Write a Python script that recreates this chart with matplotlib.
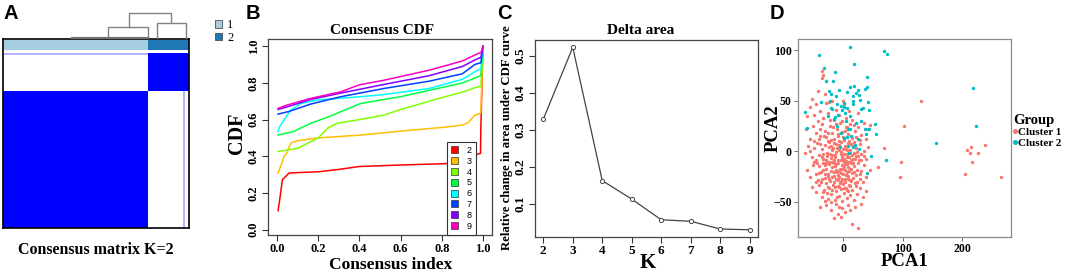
import numpy as np
import matplotlib
matplotlib.use('Agg')
import matplotlib.pyplot as plt
from matplotlib.colors import LinearSegmentedColormap, ListedColormap
from matplotlib.patches import Patch
from matplotlib.lines import Line2D

# ---------------- data ----------------
# Panel A: consensus matrix K=2
cluster_sizes = [78, 22]           # samples in cluster 1, cluster 2 (percent of samples)
annot_colors = ['#A6CEE3', '#1F78B4']
# dendrogram merges: (left_x, right_x, left_h, right_h, top_h)
dend_merges = [(56.5, 78.0, 3.0, 0.0, 12.0),
               (82.8, 98.4, 0.0, 0.0, 16.0),
               (67.7, 90.3, 12.0, 16.0, 26.0)]
dend_base = (37.0, 78.0, 1.2)

# Panel B: consensus CDF curves
cdf_k = ['2', '3', '4', '5', '6', '7', '8', '9']
cdf_colors = ['#FF0000', '#FFBF00', '#80FF00', '#00FF40', '#00FFFF', '#0040FF', '#8000FF', '#FF00BF']
cdf_x = {
    '2': [0.005, 0.015, 0.026, 0.058, 0.107, 0.2, 0.3, 0.4, 0.6, 0.8, 0.945, 0.96, 0.975, 0.988, 0.99, 1.0],
    '3': [0.005, 0.02, 0.034, 0.05, 0.06, 0.07, 0.1, 0.2, 0.4, 0.6, 0.8, 0.9, 0.93, 0.96, 0.985, 0.99, 1.0],
    '4': [0.005, 0.1, 0.164, 0.2, 0.245, 0.293, 0.4, 0.52, 0.6, 0.8, 0.9, 0.975, 0.99, 1.0],
    '5': [0.005, 0.08, 0.164, 0.25, 0.309, 0.406, 0.52, 0.6, 0.74, 0.9, 0.975, 0.99, 1.0],
    '6': [0.005, 0.012, 0.034, 0.066, 0.115, 0.196, 0.35, 0.5, 0.74, 0.9, 0.975, 0.99, 1.0],
    '7': [0.005, 0.06, 0.164, 0.31, 0.52, 0.74, 0.9, 0.96, 0.975, 0.99, 1.0],
    '8': [0.005, 0.05, 0.164, 0.31, 0.52, 0.74, 0.9, 0.96, 0.975, 0.99, 1.0],
    '9': [0.005, 0.05, 0.164, 0.31, 0.4, 0.52, 0.74, 0.9, 0.975, 0.99, 1.0],
}
cdf_y = {
    '2': [0.103, 0.18, 0.272, 0.308, 0.311, 0.315, 0.328, 0.344, 0.352, 0.359, 0.366, 0.40, 0.413, 0.415, 0.56, 1.0],
    '3': [0.308, 0.353, 0.40, 0.42, 0.456, 0.474, 0.485, 0.50, 0.515, 0.537, 0.557, 0.57, 0.585, 0.624, 0.632, 0.64, 1.0],
    '4': [0.426, 0.443, 0.48, 0.50, 0.553, 0.58, 0.60, 0.625, 0.655, 0.72, 0.75, 0.779, 0.78, 1.0],
    '5': [0.516, 0.535, 0.58, 0.615, 0.643, 0.688, 0.71, 0.725, 0.76, 0.80, 0.833, 0.84, 1.0],
    '6': [0.534, 0.56, 0.598, 0.652, 0.688, 0.707, 0.72, 0.734, 0.77, 0.82, 0.87, 0.875, 1.0],
    '7': [0.63, 0.645, 0.685, 0.725, 0.77, 0.81, 0.85, 0.90, 0.906, 0.91, 1.0],
    '8': [0.655, 0.67, 0.71, 0.745, 0.792, 0.84, 0.89, 0.925, 0.933, 0.94, 1.0],
    '9': [0.661, 0.68, 0.716, 0.752, 0.79, 0.815, 0.87, 0.92, 0.96, 0.965, 1.0],
}

# Panel C: delta area
delta_k = [2, 3, 4, 5, 6, 7, 8, 9]
delta_area = [0.329, 0.524, 0.163, 0.113, 0.057, 0.053, 0.032, 0.030]

# Panel D: PCA scatter
c1_x = [-36, -34, -36, -42, -30, -45, -28, -24, -18, 0, 2, -55, -48, -38, -33, -25, -12, -6, -15, 5,
        10, -60, -42, -22, -2, 15, 25, -52,
        -62, -50, -45, -40, -35, -30, -28, -22, -18, -15, -10, -8, -5, -2, 2, 5, 8, 12, 15, 20,
        25, 30, 35, 40, -55, -38, -25, -12, 0, 10, 18, 28, -32, -20, -7, 3, -48, 22, 38, 45,
        -64, -58, -52, -48, -44, -40, -36, -33, -30, -27, -24, -21, -18, -15, -13, -10, -8, -6, -4, -2,
        0, 2, 4, 6, 8, 10, 12, 14, 16, 18, 20, 22, 25, 28, 31, 35, 38, 42, -45, -38,
        -29, -23, -16, -11, -3, 1, 7, 13, 19, 24, -55, 30, -35, -19, 5,
        -60, -55, -50, -46, -42, -40, -37, -34, -31, -28, -26, -24, -22, -20, -18, -16, -14, -12, -10, -9,
        -7, -5, -4, -2, 0, 1, 3, 4, 6, 8, 9, 11, 13, 15, 17, 19, 22, 25, 28, 31,
        35, 39, -48, -36, -30, -19, -11, -3, 2, 7, 12, 18, 24, -25, -15, -8, 5, 14, -33, 45,
        -52, -45, -40, -36, -32, -29, -26, -23, -20, -17, -14, -12, -9, -7, -4, -2, 0, 2, 5, 7,
        10, 12, 15, 18, 21, 24, 28, 33, 38, -30, -18, -5, 8, -10, 20,
        -38, -28, -20, -12, -8, -4, -1, 3, 8, 12, 15, 25, -15, 20, 30,
        -27, -23, -19, -14, -11, -6, -3, 0, 3, 6, 9, 11, 14, 16, -25, -15, -6, 4, 12, -22,
        -17, -9, -1, 8, 15, -29, -13, -4, 1, 10, -20, -7, 5, 17, -24, -16, -2, 6, 21, -11,
        -31, -27, 23, 26, -37, 33, -41, -46, -34, -39, -26, -17, -9, 7, -43, 29, 36, -33, -21, -6,
        131, 103, 97, 96, 69, 58, 204, 208, 215, 213, 217, 226, 239, 266]
c1_y = [79, 75, 72, 60, 57, 47, 48, 49, 50, 50, 47, 44, 36, 40, 33, 38, 41, 36, 31, 33,
        40, 35, 30, 31, 30, 31, 38, 52,
        22, 25, 18, 12, 27, 20, 14, 25, 18, 12, 22, 15, 28, 19, 11, 24, 17, 27, 13, 20,
        24, 16, 28, 22, 12, 22, 10, 27, 14, 10, 26, 11, 15, 11, 10, 20, 10, 14, 12, 26,
        -2, 5, -6, 3, 8, -4, 2, -8, 6, -2, 4, -7, 1, 8, -4, 3, -9, 6, -1, -6,
        2, -8, 5, -3, 8, -6, 1, -9, 5, -2, -8, 3, -5, 7, -3, 0, -8, 4, -9, 7,
        -9, 9, -9, -1, 9, -3, 1, 7, 9, -1, 0, -9, -6, -4, -10,
        -18, -25, -14, -22, -28, -15, -20, -12, -26, -17, -22, -13, -29, -19, -11, -24, -15, -27, -20, -12,
        -25, -17, -29, -14, -22, -11, -27, -18, -13, -24, -16, -28, -12, -21, -26, -15, -23, -12, -27, -19,
        -14, -25, -11, -27, -14, -25, -18, -21, -16, -20, -17, -20, -18, -24, -20, -28, -23, -29, -18, -18,
        -35, -40, -33, -45, -38, -31, -47, -36, -42, -33, -48, -39, -34, -44, -37, -49, -32, -41, -36, -46,
        -33, -43, -38, -48, -34, -42, -36, -45, -39, -49, -38, -31, -39, -45, -31,
        -55, -53, -58, -52, -62, -65, -56, -60, -53, -58, -72, -76, -66, -55, -52,
        -5, -11, -16, -6, -13, -19, -3, -9, -13, -6, -11, -2, -17, -8, -35, -30, -35, -30, -34, -3,
        3, -23, -27, -27, -4, -12, -35, -9, -36, -19, 5, 1, 2, -12, -27, -12, -17, -38, -5, 7,
        -22, -41, -30, -9, -30, -30, -21, -30, -3, 15, 18, 24, 17, 24, -12, -22, -5, -40, -50, -55,
        50, 25, -11, -25, 3, -16, -22, 1, 4, -2, -11, -2, 6, -25]
c2_x = [11, -41, 18, 69, 74, -32, -14, -28, -17, 41, -6, 11, 18, 25, 37, 40, -24, -20, 7, 16,
        16, 28, 27, 22, 42, -37, -10, -4, 1, 6, 34, -20, 17,
        219, 223, 156, 72, 54, 55, 47, 40, -64, -60, 43, 37, 39, 31, 44, 12, 9, 1, -5, 6, -13,
        -16, -8, -2, 1, 20, 16, 27, -22, -19, 5, 12, -10, 22, 8, -3, 14, 30, -25, 10, 25, 3, -12]
c2_y = [103, 95, 86, 99, 96, 82, 78, 69, 69, 73, 61, 64, 65, 61, 62, 64, 60, 57, 59, 55,
        50, 51, 56, 58, 49, 49, 47, 45, 48, 43, 43, 43, 47,
        63, 25, 8, -9, 27, 17, -5, -21, 39, 23, 22, 22, 17, 42, 41, 22, 22, 13, 4, 14, 34,
        32, 36, 41, 44, 6, 4, 2, 50, 42, 30, 35, 25, 28, 5, 18, 15, 30, 35, -2, 12, 38, 55]
group_labels = ['Cluster 1', 'Cluster 2']
group_colors = ['#F8766D', '#00BFC4']

# ---------------- figure ----------------
W, H = 1065, 273
fig = plt.figure(figsize=(W / 100, H / 100), dpi=100)
SERIF = 'Liberation Serif'
SANS = 'Liberation Sans'


def add_ax(x0, y0, x1, y1):
    return fig.add_axes([x0 / W, 1 - y1 / H, (x1 - x0) / W, (y1 - y0) / H])


def ftext(x, y, s, **kw):
    return fig.text(x / W, 1 - y / H, s, **kw)


def style_ticks(ax, size=8.5):
    for lab in ax.get_xticklabels() + ax.get_yticklabels():
        lab.set_fontfamily(SERIF)
        lab.set_fontweight('bold')
        lab.set_fontsize(size)


# ---- Panel A ----
n1, n2 = cluster_sizes
col_lab = np.array([1] * n1 + [2] * n2)
row_lab = np.array([2] * n2 + [1] * n1)
M = (row_lab[:, None] == col_lab[None, :]).astype(float)
M[0, :n1] = 0.3
M[n2:, n1 + n2 - 3] = 0.3
cmap_hm = LinearSegmentedColormap.from_list('wb', ['#FFFFFF', '#0000FF'])
ax_a = add_ax(3, 39, 189, 228)
ax_a.imshow(M, cmap=cmap_hm, vmin=0, vmax=1, extent=(0, 100, 0, 100), aspect='auto',
            interpolation='nearest')
ax_a.imshow(col_lab[None, :], cmap=ListedColormap(annot_colors), vmin=1, vmax=2,
            extent=(0, 100, 101.7, 106.9), aspect='auto', interpolation='nearest')
ax_a.set_xlim(0, 100)
ax_a.set_ylim(0, 108)
ax_a.set_xticks([])
ax_a.set_yticks([])
for sp in ax_a.spines.values():
    sp.set_linewidth(1.2)
    sp.set_color('black')

ax_dend = add_ax(3, 10, 189, 39)
for lx, rx, lh, rh, th in dend_merges:
    ax_dend.plot([lx, lx, rx, rx], [lh, th, th, rh], color='#808080', lw=1.0, solid_joinstyle='miter')
ax_dend.plot([dend_base[0], dend_base[1]], [dend_base[2], dend_base[2]], color='#707070', lw=1.5)
ax_dend.set_xlim(0, 100)
ax_dend.set_ylim(0, 29)
ax_dend.axis('off')

fig.legend(handles=[Patch(facecolor=c, edgecolor='#333333', lw=0.5) for c in annot_colors],
           labels=['1', '2'], loc='upper left', bbox_to_anchor=(209 / W, 1 - 13 / H),
           frameon=False, handlelength=0.55, handleheight=0.55, handletextpad=0.4,
           labelspacing=0.05, borderpad=0, prop={'family': SERIF, 'size': 9})
ftext(96, 250, 'Consensus matrix K=2', ha='center', va='center', fontsize=11.5,
      fontweight='bold', family=SERIF)

# ---- Panel B ----
ax_b = add_ax(268, 39, 492, 235)
for k, col in zip(cdf_k, cdf_colors):
    ax_b.plot(cdf_x[k], cdf_y[k], color=col, lw=1.1)
ax_b.set_xlim(-0.044, 1.044)
ax_b.set_ylim(-0.03, 1.04)
ax_b.set_xticks([0, 0.2, 0.4, 0.6, 0.8, 1.0])
ax_b.set_xticklabels(['0.0', '0.2', '0.4', '0.6', '0.8', '1.0'])
ax_b.set_yticks([0, 0.2, 0.4, 0.6, 0.8, 1.0])
ax_b.set_yticklabels(['0.0', '0.2', '0.4', '0.6', '0.8', '1.0'], rotation=90, va='center')
ax_b.tick_params(length=4, width=0.8, pad=2, color='#333333')
style_ticks(ax_b, 9)
for sp in ax_b.spines.values():
    sp.set_linewidth(0.9)
    sp.set_color('#444444')
leg = ax_b.legend(handles=[Patch(facecolor=c, edgecolor='#333333', lw=0.5) for c in cdf_colors],
                  labels=cdf_k, loc='upper left', bbox_to_anchor=(0.777, 0.5),
                  handlelength=0.8, handleheight=0.8, handletextpad=0.9,
                  labelspacing=0.2, borderpad=0.5, fancybox=False, framealpha=1,
                  prop={'family': SANS, 'size': 6.5})
leg.get_frame().set_edgecolor('#333333')
leg.get_frame().set_linewidth(0.8)
ftext(382, 31, 'Consensus CDF', ha='center', va='center', fontsize=11, fontweight='bold', family=SERIF)
ftext(391, 265, 'Consensus index', ha='center', va='center', fontsize=12.5, fontweight='bold', family=SERIF)
ftext(237, 133, 'CDF', ha='center', va='center', rotation=90, fontsize=14.5, fontweight='bold', family=SERIF)

# ---- Panel C ----
ax_c = add_ax(535, 40, 758, 237)
ax_c.plot(delta_k, delta_area, color='#444444', lw=0.9, marker='o', ms=3, mfc='white',
          mec='#444444', mew=0.7)
ax_c.set_xlim(1.72, 9.28)
ax_c.set_ylim(0.0104, 0.5438)
ax_c.set_xticks(delta_k)
ax_c.set_yticks([0.1, 0.2, 0.3, 0.4, 0.5])
ax_c.set_yticklabels(['0.1', '0.2', '0.3', '0.4', '0.5'], rotation=90, va='center')
ax_c.tick_params(length=4, width=0.8, pad=2, color='#333333')
style_ticks(ax_c, 9.5)
for sp in ax_c.spines.values():
    sp.set_linewidth(0.9)
    sp.set_color('#444444')
ftext(641, 31, 'Delta area', ha='center', va='center', fontsize=11, fontweight='bold', family=SERIF)
ftext(648, 263, 'K', ha='center', va='center', fontsize=15, fontweight='bold', family=SERIF)
ftext(507, 138, 'Relative change in area under CDF curve', ha='center', va='center', rotation=90,
      fontsize=9.2, fontweight='bold', family=SERIF)

# ---- Panel D ----
ax_d = add_ax(798, 39, 1011, 237)
ax_d.scatter(c1_x, c1_y, s=6, color=group_colors[0], linewidths=0, label=group_labels[0])
ax_d.scatter(c2_x, c2_y, s=6, color=group_colors[1], linewidths=0, label=group_labels[1])
ax_d.set_xlim(-75.6, 282)
ax_d.set_ylim(-84.7, 111)
ax_d.set_xticks([0, 100, 200])
ax_d.set_yticks([-50, 0, 50, 100])
ax_d.tick_params(length=3, width=0.6, pad=1.5, color='#555555')
style_ticks(ax_d, 8.5)
for sp in ax_d.spines.values():
    sp.set_linewidth(0.9)
    sp.set_color('#8C8C8C')
ftext(905, 262, 'PCA1', ha='center', va='center', fontsize=13.5, fontweight='bold', family=SERIF)
ftext(773, 128, 'PCA2', ha='center', va='center', rotation=90, fontsize=13.5, fontweight='bold', family=SERIF)
handles_d = [Line2D([], [], ls='', marker='o', ms=2.6, mfc=c, mec=c) for c in group_colors]
leg_d = fig.legend(handles=handles_d, labels=group_labels, loc='upper left',
                   bbox_to_anchor=(1013 / W, 1 - 114 / H), frameon=False, title='Group',
                   handlelength=0.3, handletextpad=0.15, labelspacing=0.05, borderpad=0,
                   borderaxespad=0,
                   prop={'family': SERIF, 'size': 8, 'weight': 'bold'},
                   title_fontproperties={'family': SERIF, 'size': 10.5, 'weight': 'bold'})
leg_d._legend_box.align = 'left'

# ---- panel letters ----
for lx, letter in [(3, 'A'), (246, 'B'), (497, 'C'), (770, 'D')]:
    ftext(lx, 4, letter, ha='left', va='top', fontsize=14.5, fontweight='bold', family=SANS)

fig.savefig('out.png', dpi=100)
